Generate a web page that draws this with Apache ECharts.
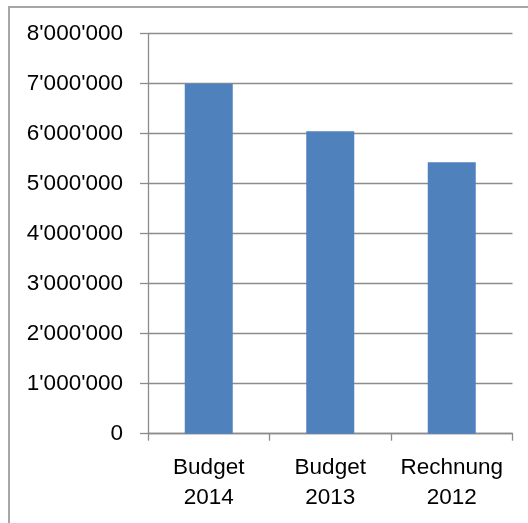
<!DOCTYPE html>
<html>
<head>
<meta charset="utf-8">
<script src="https://cdn.jsdelivr.net/npm/echarts@6/dist/echarts.min.js"></script>
<style>
html,body{margin:0;padding:0;background:#fff;overflow:hidden;}
#frame{position:absolute;left:8px;top:6px;width:540px;height:540px;border-left:2px solid #a6a6a6;border-top:2px solid #a6a6a6;}
#chart{position:absolute;left:0;top:0;width:528px;height:523px;}
</style>
</head>
<body>
<div id="frame"></div>
<div id="chart"></div>
<script>
const categories = ["Budget\n2014", "Budget\n2013", "Rechnung\n2012"];
const values = [7000000, 6050000, 5430000];
const yTickLabels = ["0", "1'000'000", "2'000'000", "3'000'000", "4'000'000", "5'000'000", "6'000'000", "7'000'000", "8'000'000"];

const chart = echarts.init(document.getElementById('chart'), null, {renderer: 'canvas'});
const font = "'Liberation Sans', Arial, sans-serif";
chart.setOption({
  animation: false,
  grid: {left: 148, right: 15.5, top: 33.7, bottom: 89.3, containLabel: false},
  xAxis: {
    type: 'category',
    data: categories,
    axisLine: {lineStyle: {color: '#8c8c8c', width: 1.3}},
    axisTick: {show: true, interval: 0, length: 7, alignWithLabel: false, lineStyle: {color: '#8c8c8c', width: 1.3}},
    axisLabel: {interval: 0, color: '#000', fontFamily: font, fontSize: 22.5, lineHeight: 30, margin: 19}
  },
  yAxis: {
    type: 'value',
    min: 0, max: 8000000, interval: 1000000,
    axisLine: {show: true, lineStyle: {color: '#8c8c8c', width: 1.3}},
    axisTick: {show: true, length: 8, lineStyle: {color: '#8c8c8c', width: 1.3}},
    splitLine: {show: true, lineStyle: {color: '#8c8c8c', width: 1.3}},
    axisLabel: {
      color: '#000', fontFamily: font, fontSize: 22.5, margin: 25,
      formatter: v => yTickLabels[Math.round(v / 1000000)]
    }
  },
  series: [{
    type: 'bar',
    data: values,
    barWidth: 48,
    itemStyle: {color: '#4F81BD'}
  }]
});
</script>
</body>
</html>
